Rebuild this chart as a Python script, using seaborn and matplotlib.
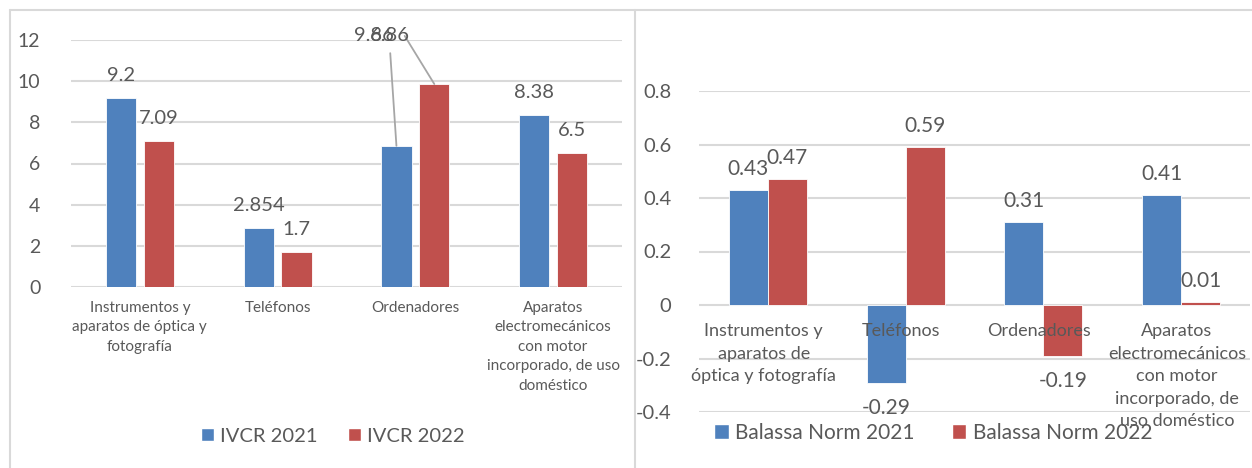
import matplotlib
matplotlib.use("Agg")
import matplotlib.pyplot as plt
import seaborn as sns
import pandas as pd
from matplotlib.patches import Patch
from matplotlib.lines import Line2D

# ---------------- data ----------------
cats_left = ["Instrumentos y\naparatos de óptica y\nfotografía", "Teléfonos", "Ordenadores",
             "Aparatos\nelectromecánicos\ncon motor\nincorporado, de uso\ndoméstico"]
cats_right = ["Instrumentos y\naparatos de\nóptica y fotografía", "Teléfonos", "Ordenadores",
              "Aparatos\nelectromecánicos\ncon motor\nincorporado, de\nuso doméstico"]
ivcr_2021 = [9.2, 2.854, 6.86, 8.38]
ivcr_2022 = [7.09, 1.7, 9.86, 6.5]
ivcr_labels_2021 = ["9.2", "2.854", "6.86", "8.38"]
ivcr_labels_2022 = ["7.09", "1.7", "9.86", "6.5"]
bal_2021 = [0.43, -0.29, 0.31, 0.41]
bal_2022 = [0.47, 0.59, -0.19, 0.01]
series_left = ["IVCR 2021", "IVCR 2022"]
series_right = ["Balassa Norm 2021", "Balassa Norm 2022"]
left_ticks = [0, 2, 4, 6, 8, 10, 12]
right_ticks = [-0.4, -0.2, 0, 0.2, 0.4, 0.6, 0.8]

BLUE = "#4F81BD"
RED = "#C0504D"
TXT = "#595959"
GRID = "#D9D9D9"

sns.set_theme(style="white")
plt.rcParams["font.family"] = ["Lato", "DejaVu Sans"]
plt.rcParams["text.color"] = TXT
plt.rcParams["axes.unicode_minus"] = False

fig = plt.figure(figsize=(12.52, 4.68), dpi=100)
W, H = 1252, 468

def px_axes(l, t, r, b):
    return fig.add_axes([l / W, 1 - b / H, (r - l) / W, (b - t) / H])

axL = px_axes(71, 40, 622, 287)
axR = px_axes(699, 91, 1250, 412)

keysL = [str(i) for i in range(len(cats_left))]
dfL = pd.DataFrame({
    "cat": keysL * 2,
    "val": ivcr_2021 + ivcr_2022,
    "serie": [series_left[0]] * 4 + [series_left[1]] * 4,
})
keysR = [str(i) for i in range(len(cats_right))]
dfR = pd.DataFrame({
    "cat": keysR * 2,
    "val": bal_2021 + bal_2022,
    "serie": [series_right[0]] * 4 + [series_right[1]] * 4,
})

for ax in (axL, axR):
    ax.set_axisbelow(True)

sns.barplot(data=dfL, x="cat", y="val", hue="serie", palette=[BLUE, RED], width=0.55, gap=0.2,
            ax=axL, legend=False, errorbar=None, saturation=1, edgecolor="white", linewidth=0.6)
sns.barplot(data=dfR, x="cat", y="val", hue="serie", palette=[BLUE, RED], width=0.565, gap=0,
            ax=axR, legend=False, errorbar=None, saturation=1, edgecolor="white", linewidth=0.6)

# ---- left axes styling
axL.set_xlim(-0.5, 3.5)
axL.set_ylim(0, 12)
axL.set_yticks(left_ticks)
axL.set_yticklabels([str(t) for t in left_ticks], fontsize=14, color=TXT)
axL.set_xticks(range(4))
axL.set_xticklabels(cats_left, fontsize=11, color=TXT, linespacing=1.5)
axL.tick_params(axis="both", length=0)
axL.tick_params(axis="x", pad=10)
axL.tick_params(axis="y", pad=22)
axL.set_xlabel("")
axL.set_ylabel("")
for s in axL.spines.values():
    s.set_visible(False)
axL.yaxis.grid(True, color=GRID, linewidth=1.5)
axL.set_facecolor("none")

# labels left
for cont, labs in zip(axL.containers, [ivcr_labels_2021, ivcr_labels_2022]):
    for k, (bar, lab) in enumerate(zip(cont.patches, labs)):
        if k == 2:
            continue
        x = bar.get_x() + bar.get_width() / 2
        h = bar.get_height()
        axL.annotate(lab, (x, h), xytext=(0, 10), textcoords="offset points",
                     ha="center", va="bottom", fontsize=14.5, color=TXT)

# Ordenadores: overlapping labels above the plot with leader lines
b21 = axL.containers[0].patches[2]
b22 = axL.containers[1].patches[2]
xb = b21.get_x() + b21.get_width() / 2
xr = b22.get_x() + b22.get_width() / 2
lab_y = 12.2
axL.text(xr - 0.58, lab_y, ivcr_labels_2022[2], ha="left", va="center", fontsize=14.5,
         color=TXT, clip_on=False)
axL.text(xr - 0.465, lab_y, ivcr_labels_2021[2], ha="left", va="center", fontsize=14.5,
         color=TXT, clip_on=False)
axL.plot([xb, xb - 0.045], [b21.get_height(), 11.36], color="#A6A6A6", lw=1.3, clip_on=False)
axL.plot([xr, xr - 0.215], [b22.get_height(), 12.2], color="#A6A6A6", lw=1.3, clip_on=False)

# ---- right axes styling
axR.set_xlim(-0.5, 3.5)
axR.set_ylim(-0.4, 0.8)
axR.set_yticks(right_ticks)
axR.set_yticklabels([f"{t:g}" for t in right_ticks], fontsize=14.5, color=TXT)
axR.tick_params(axis="both", length=0)
axR.tick_params(axis="y", pad=20)
axR.set_xticks([])
axR.set_xlabel("")
axR.set_ylabel("")
for s in axR.spines.values():
    s.set_visible(False)
axR.yaxis.grid(True, color=GRID, linewidth=1.5)
axR.set_facecolor("none")

for i, lab in enumerate(cats_right):
    axR.annotate(lab, (i, 0), xytext=(-3, -13), textcoords="offset points", ha="center", va="top",
                 fontsize=13, color=TXT, linespacing=1.5, zorder=5)

for cont, vals in zip(axR.containers, [bal_2021, bal_2022]):
    for bar, v in zip(cont.patches, vals):
        x = bar.get_x() + bar.get_width() / 2
        if v >= 0:
            axR.annotate(f"{v:g}", (x, v), xytext=(0, 8), textcoords="offset points",
                         ha="center", va="bottom", fontsize=15, color=TXT)
        else:
            axR.annotate(f"{v:g}", (x, v), xytext=(0, -11), textcoords="offset points",
                         ha="center", va="top", fontsize=15, color=TXT)

# ---- legends
hL = [Patch(facecolor=BLUE, label=series_left[0]), Patch(facecolor=RED, label=series_left[1])]
fig.legend(handles=hL, loc="center", bbox_to_anchor=(333 / W, 1 - 436 / H), ncol=2, frameon=False,
           fontsize=14.5, handlelength=0.65, handleheight=0.65, handletextpad=0.3, columnspacing=1.5,
           labelcolor=TXT)
hR = [Patch(facecolor=BLUE, label=series_right[0]), Patch(facecolor=RED, label=series_right[1])]
fig.legend(handles=hR, loc="center", bbox_to_anchor=(933 / W, 1 - 433 / H), ncol=2, frameon=False,
           fontsize=15, handlelength=0.7, handleheight=0.7, handletextpad=0.3, columnspacing=1.8,
           labelcolor=TXT)

# ---- panel frames
for (x0, y0, x1, y1) in [(10, 10, 1252, 10), (10, 10, 10, 468), (635, 10, 635, 468)]:
    fig.add_artist(Line2D([x0 / W, x1 / W], [1 - y0 / H, 1 - y1 / H], color="#D9D9D9", lw=1.5))

fig.savefig("out.png", dpi=100, facecolor="white")
